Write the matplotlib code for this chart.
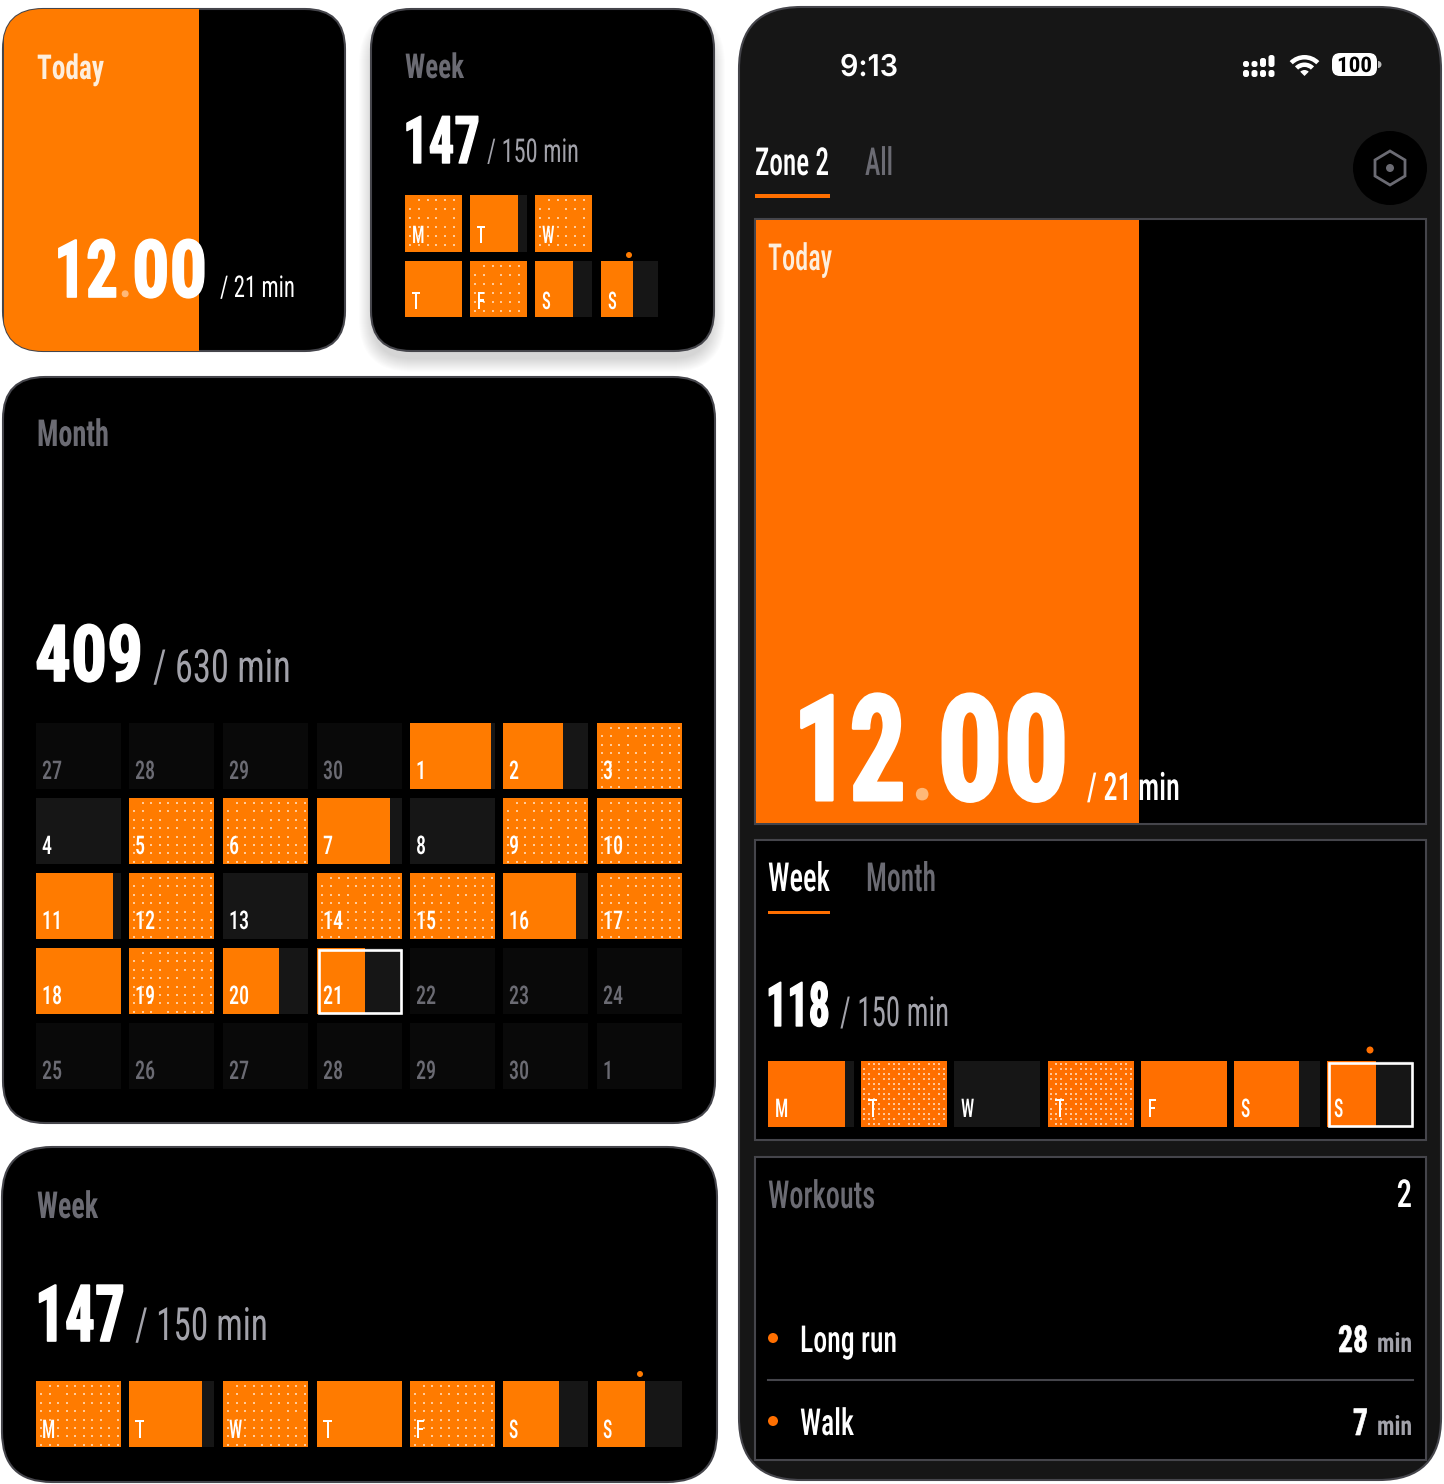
import matplotlib
matplotlib.use('Agg')
import matplotlib.pyplot as plt
from matplotlib.patches import FancyBboxPatch, Rectangle, Circle, Wedge, Polygon
from matplotlib.patheffects import AbstractPathEffect
from matplotlib.text import Text
from matplotlib.transforms import Affine2D, Bbox

# values
today_minutes = 12.00
today_goal = 21
month_days = [27, 28, 29, 30, 1, 2, 3,
              4, 5, 6, 7, 8, 9, 10,
              11, 12, 13, 14, 15, 16, 17,
              18, 19, 20, 21, 22, 23, 24,
              25, 26, 27, 28, 29, 30, 1]
# share of the daily goal, above 1 is the dotted look, None is outside the active range
month_share = [None, None, None, None, 0.95, 0.71, 1.2,
               0, 1.2, 1.2, 0.86, 0, 1.2, 1.2,
               0.90, 1.2, 0, 1.2, 1.2, 0.86, 1.2,
               1.0, 1.2, 0.66, 0.57, None, None, None,
               None, None, None, None, None, None, None]
week_days = ['M', 'T', 'W', 'T', 'F', 'S', 'S']
week_share = [1.2, 0.85, 1.2, 1.0, 1.2, 0.67, 0.57]
wide_share = [1.2, 0.86, 1.2, 1.0, 1.2, 0.66, 0.57]
phone_share = [0.90, 1.2, 0, 1.2, 1.0, 0.75, 0.57]

ORANGE = '#ff7b00'
ORANGE2 = '#ff6f00'
GRAY = '#6b6b73'
LIGHT = '#a2a2aa'
LINE = '#45454b'
NARROW = ['Roboto Condensed', 'Liberation Sans']

fig = plt.figure(figsize=(14.44, 14.84), dpi=100, facecolor='white')
ax = fig.add_axes([0, 0, 1, 1])
ax.set_xlim(0, 1444)
ax.set_ylim(1484, 0)
ax.axis('off')
renderer = fig.canvas.get_renderer()


class Squeeze(AbstractPathEffect):
    # narrows the glyphs, the installed fonts are wider than the original one
    def __init__(self, sx, grow=0.0):
        super().__init__()
        self.sx = sx
        self.grow = grow

    def draw_path(self, renderer, gc, tpath, affine, rgbFace=None):
        gc0 = renderer.new_gc()
        gc0.copy_properties(gc)
        if self.grow > 0:
            gc0.set_foreground(rgbFace)
        gc0.set_linewidth(self.grow)
        renderer.draw_path(gc0, tpath, Affine2D().scale(self.sx, 1) + affine, rgbFace)
        gc0.restore()


class NarrowText(Text):
    # layout box follows the squeezed width
    sx = 1.0

    def _get_layout(self, renderer):
        bbox, info, descent = super()._get_layout(renderer)
        return Bbox.from_bounds(bbox.x0, bbox.y0, bbox.width * self.sx, bbox.height), info, descent


def label(x, y, s, h, color='white', bold=False, width=None, right=False, sx=0.8,
          family=NARROW, weight=500, grow=0.0):
    t = NarrowText(x, y, s, fontsize=h / 0.70 * 0.72, color=color, family=family,
                   fontweight=700 if bold else weight, ha='left', va='baseline', zorder=10)
    ax.add_artist(t)
    full = t.get_window_extent(renderer).width
    if width is not None:
        sx = width / full
    if right:
        t.set_x(x - full * sx)
    t.sx = sx
    t.set_path_effects([Squeeze(sx, grow)])
    return t


def card(x0, y0, x1, y1, r, face, edge=LINE, lw=1.5, zorder=2):
    p = FancyBboxPatch((x0, y0), x1 - x0, y1 - y0, boxstyle=f'round,pad=0,rounding_size={r}',
                       facecolor=face, edgecolor=edge, linewidth=lw, zorder=zorder)
    ax.add_patch(p)
    return p


def dots(x, y, w, h, stepx, stepy, skip):
    xs, ys = [], []
    i = 0
    px = x + stepx * 0.6
    while px < x + w - 1:
        j = 0
        py = y + stepy * 0.6
        while py < y + h - 1:
            if (i * 3 + j * 5) % skip != 0:
                xs.append(px)
                ys.append(py)
            py += stepy
            j += 1
        px += stepx
        i += 1
    ax.scatter(xs, ys, s=2.6, color='white', alpha=0.6, marker='s', linewidths=0, zorder=6)


def cell(x, y, w, h, share, color, stepx=8.5, stepy=8.4, skip=11, back='#161616', today=False):
    if share is None:
        ax.add_patch(Rectangle((x, y), w, h, facecolor='#090909', edgecolor='none', zorder=4))
        return
    ax.add_patch(Rectangle((x, y), w, h, facecolor=back, edgecolor='none', zorder=4))
    ax.add_patch(Rectangle((x, y), w * min(share, 1), h, facecolor=color, edgecolor='none', zorder=5))
    if share > 1:
        dots(x, y, w, h, stepx, stepy, skip)
    if today:
        ax.add_patch(Rectangle((x + 1.5, y + 1.5), w - 3, h - 3, facecolor='none', edgecolor='white',
                               linewidth=1.9, zorder=7))


# shadow under the small week card
for k in range(14):
    sh = FancyBboxPatch((372 - k, 16 - k + 8), 340 + 2 * k, 335 + 2 * k,
                        boxstyle=f'round,pad=0,rounding_size={40 + k}',
                        facecolor='black', edgecolor='none', alpha=0.012, zorder=1)
    ax.add_patch(sh)

# small today card
c = card(3, 9, 345, 351, 40, 'black')
bar = Rectangle((3.5, 9), 342 * today_minutes / today_goal, 342, facecolor=ORANGE, edgecolor='none', zorder=3)
ax.add_patch(bar)
bar.set_clip_path(c)
label(37, 79, 'Today', 24, '#fdeedd', bold=True, width=67)
label(54, 297, '12', 56, bold=True, width=64, grow=1.2)
label(119, 297, '.', 32, '#ffb877', bold=True, sx=0.95)
label(132, 297, '00', 56, bold=True, width=75, grow=1.2)
label(220, 297, '/ 21 min', 21, width=75, weight=400)

# small week card
card(371, 9, 714, 351, 40, 'black')
label(405, 78, 'Week', 24, GRAY, bold=True, width=59)
label(403, 163, '147', 46, bold=True, width=77, grow=1.0)
label(487, 162, '/ 150 min', 23, LIGHT, width=92, weight=400)
week_x = [405, 470, 535, 405, 470, 535, 601]
week_y = [195, 195, 195, 261, 261, 261, 261]
for x, y, d, s in zip(week_x, week_y, week_days, week_share):
    cell(x, y, 57, 57 if y == 195 else 56, s, ORANGE, stepx=8.7, stepy=9)
    label(x + 7, y + 48, d, 17, sx=0.68)
ax.add_patch(Circle((629, 255), 3, facecolor=ORANGE, edgecolor='none', zorder=6))

# month card
card(3, 377, 715, 1123, 42, 'black')
label(37, 446, 'Month', 26, GRAY, bold=True, width=72)
label(35, 681, '409', 55, bold=True, width=108, grow=1.2)
label(153, 682, '/ 630 min', 32, LIGHT, width=138, weight=400)
col_x = [36, 129, 223, 317, 410, 503, 597]
row_y = [723, 798, 873, 948, 1023]
for n, (d, s) in enumerate(zip(month_days, month_share)):
    x = col_x[n % 7]
    y = row_y[n // 7]
    cell(x, y, 85, 66, s, ORANGE, today=(d == 21))
    label(x + 6, y + 56, str(d), 18, GRAY if s is None else 'white', sx=0.78)

# wide week card
card(2, 1147, 717, 1482, 50, 'black')
label(37, 1218, 'Week', 26, GRAY, bold=True, width=61)
label(35, 1341, '147', 55, bold=True, width=90, grow=1.2)
label(135, 1340, '/ 150 min', 32, LIGHT, width=133, weight=400)
for x, d, s in zip(col_x, week_days, wide_share):
    cell(x, 1381, 85, 66, s, ORANGE)
    label(x + 6, 1438, d, 18, sx=0.68)
ax.add_patch(Circle((640, 1374), 3, facecolor=ORANGE, edgecolor='none', zorder=6))

# phone
phone = card(739, 7, 1441, 1480, 62, '#161616')
label(840, 76, '9:13', 21, width=58, family=['Inter', 'DejaVu Sans'], weight=600)

# status bar
sig_x = [1243, 1251.5, 1260, 1268.5]
sig_top = [61, 61, 58, 55]
for x, top in zip(sig_x, sig_top):
    ax.add_patch(FancyBboxPatch((x, 70), 6, 7, boxstyle='round,pad=0,rounding_size=2.5',
                                facecolor='white', edgecolor='none', zorder=6))
    ax.add_patch(FancyBboxPatch((x, top), 6, 67 - top, boxstyle='round,pad=0,rounding_size=2.5',
                                facecolor='white', edgecolor='none', zorder=6))
ax.add_patch(Wedge((1304.5, 76), 21, 225, 315, width=4.5, facecolor='white', edgecolor='none', zorder=6))
ax.add_patch(Wedge((1304.5, 76), 13.5, 225, 315, width=4.5, facecolor='white', edgecolor='none', zorder=6))
ax.add_patch(Wedge((1304.5, 76), 6, 225, 315, facecolor='white', edgecolor='none', zorder=6))
ax.add_patch(FancyBboxPatch((1332, 53), 45, 23, boxstyle='round,pad=0,rounding_size=8',
                            facecolor='white', edgecolor='none', zorder=6))
ax.add_patch(Wedge((1378, 64.5), 3.5, 270, 90, facecolor='#bbbbbb', edgecolor='none', zorder=6))
label(1337, 72, '100', 15, 'black', bold=True, width=35)

# tabs
label(755, 175, 'Zone 2', 27, width=74)
label(865, 175, 'All', 27, GRAY, width=28)
ax.add_patch(Rectangle((755, 194), 75, 3.5, facecolor=ORANGE2, edgecolor='none', zorder=6))
ax.add_patch(Circle((1390, 168), 37, facecolor='black', edgecolor='none', zorder=3))
ax.add_patch(Polygon([(1390, 151), (1405, 160), (1405, 176), (1390, 185), (1375, 176), (1375, 160)],
                     closed=True, facecolor='none', edgecolor=GRAY, linewidth=2, zorder=6))
ax.add_patch(Circle((1390, 168), 4, facecolor=GRAY, edgecolor='none', zorder=6))

# today panel
ax.add_patch(Rectangle((755, 219), 671, 605, facecolor='black', edgecolor=LINE, linewidth=1.5, zorder=3))
ax.add_patch(Rectangle((756, 220), 671 * today_minutes / today_goal, 603, facecolor=ORANGE2,
                       edgecolor='none', zorder=4))
label(768, 270, 'Today', 26, '#fdeedd', width=64)
label(793, 800, '12', 103, bold=True, width=113, grow=2.2)
label(911, 800, '.', 58, '#ffb877', bold=True, sx=0.95)
label(937, 800, '00', 103, bold=True, width=132, grow=2.2)
label(1087, 800, f'/ {today_goal} min', 27, width=93)

# week panel
ax.add_patch(Rectangle((755, 840), 671, 300, facecolor='black', edgecolor=LINE, linewidth=1.5, zorder=3))
label(768, 891, 'Week', 28, width=62)
label(866, 891, 'Month', 28, GRAY, width=70)
ax.add_patch(Rectangle((768, 911), 62, 3, facecolor=ORANGE2, edgecolor='none', zorder=6))
label(766, 1026, '118', 43, bold=True, width=64, grow=1.0)
label(840, 1026, '/ 150 min', 29, LIGHT, width=109, weight=400)
phone_x = [768, 861, 954, 1048, 1141, 1234, 1327]
for x, d, s in zip(phone_x, week_days, phone_share):
    cell(x, 1061, 86, 66, s, ORANGE2, stepx=5, stepy=5, skip=4, today=(x == 1327))
    label(x + 7, 1117, d, 18, sx=0.68)
ax.add_patch(Circle((1370, 1050), 3.5, facecolor=ORANGE2, edgecolor='none', zorder=6))

# workouts panel
ax.add_patch(Rectangle((755, 1157), 671, 303, facecolor='black', edgecolor=LINE, linewidth=1.5, zorder=3))
label(768, 1208, 'Workouts', 27, GRAY, width=107)
label(1412, 1207, '2', 27, right=True, sx=0.8)
ax.add_patch(Circle((773, 1338), 5, facecolor=ORANGE2, edgecolor='none', zorder=6))
label(800, 1352, 'Long run', 26, width=97)
label(1368, 1352, '28', 26, bold=True, width=30, right=True, grow=0.5)
label(1412, 1352, 'min', 19, '#a2a2aa', bold=True, width=35, right=True)
ax.plot([768, 1413], [1380, 1380], color=LINE, linewidth=1.5, zorder=5)
ax.add_patch(Circle((773, 1421), 5, facecolor=ORANGE2, edgecolor='none', zorder=6))
label(800, 1435, 'Walk', 26, width=54)
label(1368, 1435, '7', 26, bold=True, right=True, sx=0.8, grow=0.5)
label(1412, 1435, 'min', 19, '#a2a2aa', bold=True, width=35, right=True)

fig.savefig('out.png', dpi=100, facecolor='white')
